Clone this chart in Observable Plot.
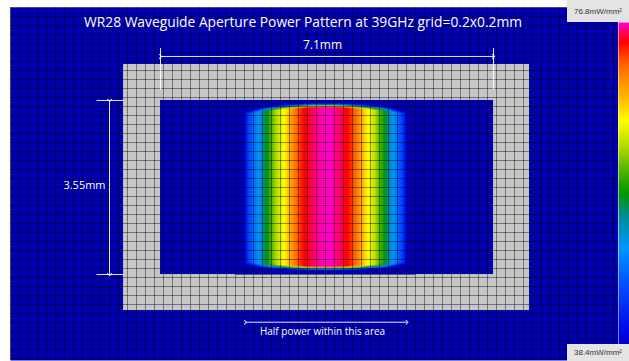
<!DOCTYPE html>
<html><head><meta charset="utf-8">
<script src="https://cdn.jsdelivr.net/npm/d3@7"></script>
<script src="https://cdn.jsdelivr.net/npm/@observablehq/plot@0.6"></script>
<style>
body{margin:0;background:#fff;}
#wrap{position:relative;width:629px;height:361px;overflow:hidden;font-family:"Open Sans",sans-serif;}
#main{position:absolute;left:0;top:0;}
#bar{position:absolute;left:618px;top:22px;}
.lab{position:absolute;left:567px;width:62px;background:#e4e4e4;color:#333;font-size:8px;display:flex;align-items:center;justify-content:center;font-family:"Liberation Sans",sans-serif;}
</style></head><body>
<div id="wrap"><div id="main"></div><div id="bar"></div>
<div class="lab" id="labTop" style="top:0;height:22px;"></div>
<div class="lab" id="labBot" style="top:344px;height:17px;"></div>
</div>
<script>
// Units: one grid cell = 0.2 mm
const titleText = "WR28 Waveguide Aperture Power Pattern at 39GHz grid=0.2x0.2mm";
const widthLabel = "7.1mm";
const heightLabel = "3.55mm";
const halfPowerLabel = "Half power within this area";
const scaleMax = 76.8, scaleMin = 38.4; // mW/mm²
const scaleLabels = ["76.8mW/mm²", "38.4mW/mm²"];

const flangeX = [12.56, 57.67], flangeY = [6.33, 33.67];
const apertureX = [16.67, 53.67], apertureY = [10.33, 29.67];
const halfPowerX = [26.1, 44.07];

const heatColumns = [25.5, 26.5, 27.5, 28.5, 29.5, 30.5, 31.5, 32.5, 33.5, 34.5, 35.5, 36.5, 37.5, 38.5, 39.5, 40.5, 41.5, 42.5, 43.5, 44.5];
const heatValues  = [34, 44.8, 49.5, 56.3, 62, 65.5, 70.5, 74.3, 75.5, 76.6, 76.8, 75.8, 74.3, 71, 66, 62.3, 56.8, 50, 44.5, 34];
const heatTop     = [11.85, 11.8, 11.6, 11.45, 11.35, 11.25, 11.2, 11.15, 11.1, 11.1, 11.1, 11.1, 11.15, 11.2, 11.25, 11.35, 11.45, 11.6, 11.8, 11.85];
const heatBottom  = [28.25, 28.3, 28.45, 28.55, 28.6, 28.65, 28.7, 28.72, 28.75, 28.75, 28.75, 28.75, 28.72, 28.7, 28.65, 28.6, 28.55, 28.45, 28.3, 28.25];
const apertureBackground = 34;
const heatFringe = 0.5;

const colorStops = [38.4, 39.55, 45.58, 49.92, 53.95, 56.33, 59.14, 62.09, 65.09, 67.47, 71.42, 74.5, 76.8];
const colorRange = ["#0000c8", "#0000e6", "#0050ff", "#0096ff", "#008c8c", "#009600", "#50b400", "#b4dc00", "#ffff00", "#ffc000", "#ff7000", "#ff0000", "#ff00c8"];
const NAVY = "#0000ac", GRAY = "#c6c6c6";

const heatSamples = [];
heatColumns.forEach((c, i) => {
  heatSamples.push({x: c, y: heatTop[i] - heatFringe, v: apertureBackground});
  heatSamples.push({x: c, y: heatTop[i], v: heatValues[i]});
  heatSamples.push({x: c, y: heatBottom[i], v: heatValues[i]});
  heatSamples.push({x: c, y: heatBottom[i] + heatFringe, v: apertureBackground});
});

const W = 608 / 9, H = 353 / 9;
const gridX = d3.range(0, Math.floor(W) + 1);
const gridY = d3.range(0, Math.floor(H) + 1);
const white = {stroke: "white", strokeOpacity: 0.9, strokeWidth: 1};

const main = Plot.plot({
  width: 618, height: 361,
  marginLeft: 10, marginRight: 0, marginTop: 7, marginBottom: 1,
  x: {domain: [0, W], axis: null},
  y: {domain: [0, H], axis: null, reverse: true},
  color: {type: "linear", domain: [apertureBackground, ...colorStops], range: [NAVY, ...colorRange], clamp: true},
  style: {fontFamily: "Open Sans", background: "transparent"},
  marks: [
    Plot.frame({fill: NAVY}),
    Plot.rect([0], {x1: flangeX[0], x2: flangeX[1], y1: flangeY[0], y2: flangeY[1], fill: GRAY}),
    Plot.rect([0], {x1: apertureX[0], x2: apertureX[1], y1: apertureY[0], y2: apertureY[1], fill: NAVY}),
    Plot.raster(heatSamples, {x: "x", y: "y", fill: "v", interpolate: "barycentric", x1: 25, x2: 45, y1: apertureY[0], y2: apertureY[1]}),
    Plot.ruleX(gridX, {stroke: "#000", strokeOpacity: 0.42}),
    Plot.ruleY(gridY, {stroke: "#000", strokeOpacity: 0.42}),
    // width dimension
    Plot.link([0], {x1: apertureX[0], x2: apertureX[1], y1: 5.44, y2: 5.44, ...white, markerStart: "arrow", markerEnd: "arrow"}),
    Plot.link(apertureX, {x1: d => d, x2: d => d, y1: 4.5, y2: 9.1, ...white}),
    // height dimension
    Plot.link([0], {x1: 11, x2: 11, y1: apertureY[0], y2: apertureY[1], ...white, markerStart: "arrow", markerEnd: "arrow"}),
    Plot.link(apertureY, {x1: 9.56, x2: flangeX[0], y1: d => d, y2: d => d, ...white}),
    // half power
    Plot.link([0], {x1: halfPowerX[0], x2: halfPowerX[1], y1: 34.97, y2: 34.97, ...white, markerStart: "arrow", markerEnd: "arrow"}),
    Plot.text([titleText], {x: 32.5, y: 1.67, text: d => d, fill: "white", fontSize: 13.8}),
    Plot.text([widthLabel], {x: 34.67, y: 4.17, text: d => d, fill: "white", fontSize: 12}),
    Plot.text([heightLabel], {x: 8.22, y: 19.72, text: d => d, fill: "white", fontSize: 11}),
    Plot.text([halfPowerLabel], {x: 34.67, y: 36.0, text: d => d, fill: "white", fontSize: 10})
  ]
});
document.getElementById("main").appendChild(main);

const bar = Plot.plot({
  width: 11, height: 322, margin: 0,
  x: {domain: [0, 1], axis: null},
  y: {domain: [scaleMin, scaleMax], axis: null},
  color: {type: "linear", domain: colorStops, range: colorRange},
  style: {background: "transparent"},
  marks: [Plot.raster({fill: (x, y) => y, x1: 0, x2: 1, y1: scaleMin, y2: scaleMax})]
});
document.getElementById("bar").appendChild(bar);
document.getElementById("labTop").textContent = scaleLabels[0];
document.getElementById("labBot").textContent = scaleLabels[1];
</script>
</body></html>
